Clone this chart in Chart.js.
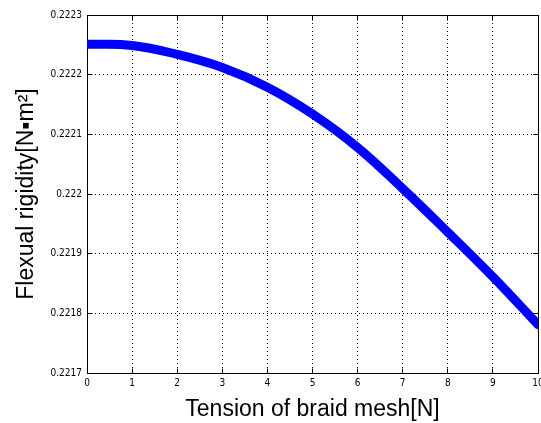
<!DOCTYPE html>
<html>
<head>
<meta charset="utf-8">
<script src="https://cdn.jsdelivr.net/npm/chart.js@4/dist/chart.umd.min.js"></script>
<style>
html, body { margin: 0; padding: 0; background: #fff; }
</style>
</head>
<body>
<canvas id="rigidityChart" width="541" height="423"></canvas>
<script>
// values
var tension = [0, 1, 2, 3, 4, 5, 6, 7, 8, 9, 10];
var rigidity = [0.222251, 0.222249, 0.222234, 0.222212, 0.222179, 0.222134, 0.222078, 0.222009, 0.221936, 0.221861, 0.221781];
var xRange = [0, 10];
var yRange = [0.2217, 0.2223];
var xStep = 1;
var yStep = 0.0001;

var tickFont = { family: "'DejaVu Sans Condensed', 'Liberation Sans Narrow', sans-serif", size: 10 };
var titleFont = { family: "'Liberation Sans', Arial, sans-serif", size: 23 };

function alignPx(p)
{
    return Math.round(p - 0.5) + 0.5;
}

// matlab style box with inward ticks
var boxPlugin = {
    id: 'matlabBox',
    beforeDatasetsDraw: function (chart) {
        var ctx = chart.ctx;
        var a = chart.chartArea;
        var l = alignPx(a.left), r = alignPx(a.right), t = alignPx(a.top), b = alignPx(a.bottom);
        ctx.save();
        ctx.strokeStyle = '#000';
        ctx.lineWidth = 1;
        ctx.beginPath();
        chart.scales.x.ticks.forEach(function (tk) {
            var px = alignPx(chart.scales.x.getPixelForValue(tk.value));
            ctx.moveTo(px, b); ctx.lineTo(px, b - 5);
            ctx.moveTo(px, t); ctx.lineTo(px, t + 5);
        });
        chart.scales.y.ticks.forEach(function (tk) {
            var py = alignPx(chart.scales.y.getPixelForValue(tk.value));
            ctx.moveTo(l, py); ctx.lineTo(l + 5, py);
            ctx.moveTo(r, py); ctx.lineTo(r - 5, py);
        });
        ctx.stroke();
        ctx.strokeRect(l, t, r - l, b - t);
        ctx.restore();
    }
};

var points = tension.map(function (t, i) { return { x: t, y: rigidity[i] }; });

var chart = new Chart(document.getElementById('rigidityChart'), {
    type: 'line',
    data: {
        datasets: [{
            data: points,
            borderColor: '#0000ff',
            backgroundColor: '#0000ff',
            borderWidth: 9,
            borderCapStyle: 'round',
            borderJoinStyle: 'round',
            tension: 0.4,
            pointRadius: 0,
            fill: false
        }]
    },
    options: {
        responsive: false,
        animation: false,
        layout: { padding: { top: 15, right: 3, left: 0, bottom: 0 } },
        plugins: {
            legend: { display: false },
            tooltip: { enabled: false }
        },
        scales: {
            x: {
                type: 'linear',
                min: xRange[0],
                max: xRange[1],
                ticks: {
                    stepSize: xStep,
                    color: '#000',
                    font: tickFont,
                    padding: 4,
                    maxRotation: 0
                },
                grid: { color: '#000', lineWidth: 1, drawTicks: false },
                border: { display: false, dash: [1, 3] },
                title: {
                    display: true,
                    text: 'Tension of braid mesh[N]',
                    color: '#000',
                    font: titleFont,
                    padding: { top: 0, bottom: 0 }
                },
                afterFit: function (scale) {
                    scale.height = 50;
                    scale.paddingLeft = 0;
                    scale.paddingRight = 0;
                }
            },
            y: {
                type: 'linear',
                min: yRange[0],
                max: yRange[1],
                ticks: {
                    stepSize: yStep,
                    color: '#000',
                    font: tickFont,
                    padding: 5,
                    callback: function (v) { return String(Number(v.toFixed(4))); }
                },
                grid: { color: '#000', lineWidth: 1, drawTicks: false },
                border: { display: false, dash: [1, 3] },
                title: {
                    display: true,
                    text: 'Flexual rigidity[N\u25aam\u00b2]',
                    color: '#000',
                    font: titleFont,
                    padding: { top: 13, bottom: 0 }
                },
                afterFit: function (scale) {
                    scale.width = 87;
                    scale.paddingTop = 0;
                    scale.paddingBottom = 0;
                }
            }
        }
    },
    plugins: [boxPlugin]
});
</script>
</body>
</html>
